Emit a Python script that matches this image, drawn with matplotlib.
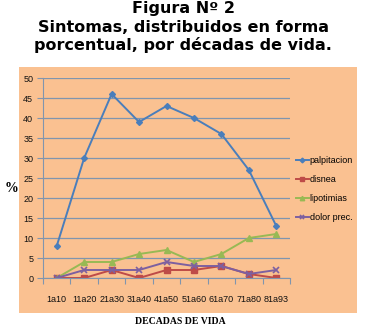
import matplotlib.pyplot as plt

decadas = ["1a10", "11a20", "21a30", "31a40", "41a50", "51a60", "61a70", "71a80", "81a93"]
palpitacion = [8, 30, 46, 39, 43, 40, 36, 27, 13]
disnea = [0, 0, 2, 0, 2, 2, 3, 1, 0]
lipotimias = [0, 4, 4, 6, 7, 4, 6, 10, 11]
dolor_prec = [0, 2, 2, 2, 4, 3, 3, 1, 2]

peach = "#FAC191"
grid_c = "#8095AE"
small = ["Liberation Sans", "DejaVu Sans"]

fig = plt.figure(figsize=(3.66, 3.35), dpi=100)
bg = fig.add_axes([19 / 366, 1 - 313 / 335, 338 / 366, 246 / 335], zorder=0)
bg.set_facecolor(peach)
bg.set_xticks([])
bg.set_yticks([])
for s in bg.spines.values():
    s.set_visible(False)

ax = fig.add_axes([43 / 366, 1 - 278 / 335, 247 / 366, 200 / 335], zorder=1)
ax.set_facecolor("none")
x = range(len(decadas))
ax.plot(x, palpitacion, color="#4A7EBB", marker="D", markersize=3, lw=1.4, label="palpitacion")
ax.plot(x, disnea, color="#BE4B48", marker="s", markersize=4, lw=1.4, label="disnea")
ax.plot(x, lipotimias, color="#98B954", marker="^", markersize=4, lw=1.4, label="lipotimias")
ax.plot(x, dolor_prec, color="#7D60A0", marker="x", markersize=4, mew=1.2, lw=1.4, label="dolor prec.")

ax.set_xlim(-0.5, len(decadas) - 0.5)
ax.set_ylim(0, 50)
ax.set_yticks(range(0, 51, 5))
ax.set_xticks([i - 0.5 for i in range(len(decadas) + 1)], minor=False)
ax.set_xticklabels([])
ax.set_xticks(list(x), minor=True)
ax.set_xticklabels(decadas, minor=True)
ax.tick_params(axis="x", which="minor", length=0, pad=12, labelsize=6.5)
ax.tick_params(axis="x", which="major", length=4, color=grid_c, direction="out")
ax.tick_params(axis="y", length=4, color=grid_c, labelsize=6.5, pad=3)
for lab in ax.get_xticklabels(minor=True) + ax.get_yticklabels():
    lab.set_family(small)
    lab.set_color("#111111")
ax.grid(axis="y", color=grid_c, lw=0.9)
for s in ["top", "right"]:
    ax.spines[s].set_visible(False)
for s in ["left", "bottom"]:
    ax.spines[s].set_color(grid_c)

ax.legend(loc="center left", bbox_to_anchor=(1.01, 0.445), frameon=False,
          prop={"family": small, "size": 6.5},
          handlelength=1.4, handletextpad=0.1, labelspacing=1.1, markerscale=0.8,
          borderaxespad=0.2, borderpad=0.2)

fig.text(0.5, 1 - 9 / 335, "Figura Nº 2", ha="center", va="center",
         fontsize=11.5, fontweight="bold", family="DejaVu Sans")
fig.text(0.5, 1 - 27 / 335, "Sintomas, distribuidos en forma", ha="center", va="center",
         fontsize=11.5, fontweight="bold", family="DejaVu Sans")
fig.text(0.5, 1 - 45 / 335, "porcentual, por décadas de vida.", ha="center", va="center",
         fontsize=11.5, fontweight="bold", family="DejaVu Sans")
fig.text(12 / 366, 1 - 188 / 335, "%", ha="center", va="center",
         fontsize=10, fontweight="bold", family="Liberation Serif")
fig.text(180 / 366, 1 - 322 / 335, "DECADAS DE VIDA", ha="center", va="center",
         fontsize=7, fontweight="bold", family="Liberation Serif")

fig.savefig("out.png", dpi=100)
